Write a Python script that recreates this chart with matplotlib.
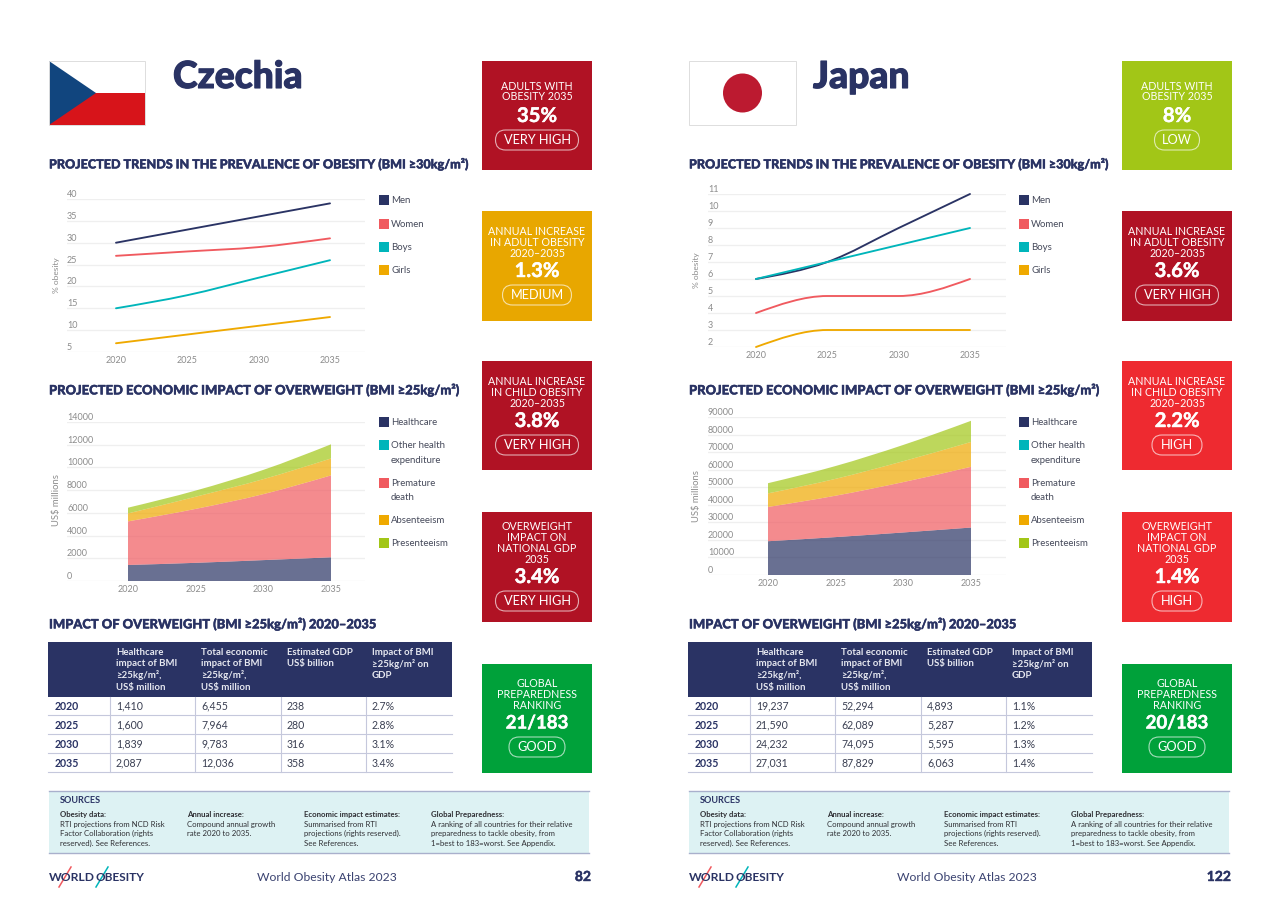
import numpy as np
import matplotlib
matplotlib.use('Agg')
import matplotlib.pyplot as plt
import matplotlib.patheffects as pe
from matplotlib.patches import Rectangle, Polygon, Circle, FancyBboxPatch, PathPatch
from matplotlib.path import Path

plt.rcParams['font.family'] = ['Lato', 'DejaVu Sans']

W, H = 1280, 905

NAVY = '#2A3364'
RED = '#F05A5F'
CYAN = '#00B5BA'
AMBER = '#EFA900'
TILE_AMBER = '#E8A700'
LIME = '#A2C617'
DARK_RED = '#B01224'
BRIGHT_RED = '#EE2A30'
GREEN = '#00A13A'

years = [2020, 2025, 2030, 2035]

# prevalence lines, % obesity
cz_men = [30, 33, 36, 39]
cz_women = [27, 28, 29, 31]
cz_boys = [15, 18, 22, 26]
cz_girls = [7, 9, 11, 13]
jp_men = [6, 7, 9, 11]
jp_women = [4, 5, 5, 6]
jp_boys = [6, 7, 8, 9]
jp_girls = [2, 3, 3, 3]

# economic impact, US$ millions
cz_healthcare = [1410, 1600, 1839, 2087]
cz_other = [0, 0, 0, 0]
cz_premature = [3840, 4750, 5810, 7213]
cz_absent = [700, 1070, 1320, 1490]
cz_present = [505, 544, 814, 1246]
jp_healthcare = [19237, 21590, 24232, 27031]
jp_other = [0, 0, 0, 0]
jp_premature = [19520, 23600, 28700, 34600]
jp_absent = [7740, 9610, 11910, 14160]
jp_present = [5797, 7289, 9253, 12038]

cz_line_ticks = [5, 10, 15, 20, 25, 30, 35, 40]
jp_line_ticks = [2, 3, 4, 5, 6, 7, 8, 9, 10, 11]
cz_area_ticks = [0, 2000, 4000, 6000, 8000, 10000, 12000, 14000]
jp_area_ticks = [0, 10000, 20000, 30000, 40000, 50000, 60000, 70000, 80000, 90000]

# table rows
cz_table = [['1,410', '6,455', '238', '2.7%'],
            ['1,600', '7,964', '280', '2.8%'],
            ['1,839', '9,783', '316', '3.1%'],
            ['2,087', '12,036', '358', '3.4%']]
jp_table = [['19,237', '52,294', '4,893', '1.1%'],
            ['21,590', '62,089', '5,287', '1.2%'],
            ['24,232', '74,095', '5,595', '1.3%'],
            ['27,031', '87,829', '6,063', '1.4%']]
table_header = [['Healthcare', 'impact of BMI', '≥25kg/m²,', 'US$ million'],
                ['Total economic', 'impact of BMI', '≥25kg/m²,', 'US$ million'],
                ['Estimated GDP', 'US$ billion'],
                ['Impact of BMI', '≥25kg/m² on', 'GDP']]

# right hand tiles
cz_tiles = [(['ADULTS WITH', 'OBESITY 2035'], '35%', 'VERY HIGH', DARK_RED),
            (['ANNUAL INCREASE', 'IN ADULT OBESITY', '2020–2035'], '1.3%', 'MEDIUM', TILE_AMBER),
            (['ANNUAL INCREASE', 'IN CHILD OBESITY', '2020–2035'], '3.8%', 'VERY HIGH', DARK_RED),
            (['OVERWEIGHT', 'IMPACT ON', 'NATIONAL GDP', '2035'], '3.4%', 'VERY HIGH', DARK_RED),
            (['GLOBAL', 'PREPAREDNESS', 'RANKING'], '21/183', 'GOOD', GREEN)]
jp_tiles = [(['ADULTS WITH', 'OBESITY 2035'], '8%', 'LOW', LIME),
            (['ANNUAL INCREASE', 'IN ADULT OBESITY', '2020–2035'], '3.6%', 'VERY HIGH', DARK_RED),
            (['ANNUAL INCREASE', 'IN CHILD OBESITY', '2020–2035'], '2.2%', 'HIGH', BRIGHT_RED),
            (['OVERWEIGHT', 'IMPACT ON', 'NATIONAL GDP', '2035'], '1.4%', 'HIGH', BRIGHT_RED),
            (['GLOBAL', 'PREPAREDNESS', 'RANKING'], '20/183', 'GOOD', GREEN)]
pill_width = {'VERY HIGH': 83, 'MEDIUM': 69, 'GOOD': 56, 'HIGH': 50, 'LOW': 45}

sources = [(60, 'Obesity data:', ['RTI projections from NCD Risk', 'Factor Collaboration (rights', 'reserved). See References.']),
           (187, 'Annual increase:', ['Compound annual growth', 'rate 2020 to 2035.']),
           (304, 'Economic impact estimates:', ['Summarised from RTI', 'projections (rights reserved).', 'See References.']),
           (431, 'Global Preparedness:', ['A ranking of all countries for their relative', 'preparedness to tackle obesity, from', '1=best to 183=worst. See Appendix.'])]

fig = plt.figure(figsize=(W / 100, H / 100), dpi=100, facecolor='white')
page = fig.add_axes([0, 0, 1, 1])
page.set_xlim(0, W)
page.set_ylim(H, 0)
page.axis('off')


def px_axes(x0, top, x1, bottom):
    ax = fig.add_axes([x0 / W, 1 - bottom / H, (x1 - x0) / W, (bottom - top) / H])
    ax.patch.set_alpha(0)
    return ax


# the source headings are heavier than Lato Bold, so thicken them a little
def heavy(width, color=NAVY):
    return [pe.withStroke(linewidth=width, foreground=color)]


# monotone cubic segments through the data points, same look as the source chart
def curve_verts(xs, ys):
    xs = np.array(xs, dtype=float)
    ys = np.array(ys, dtype=float)
    h = np.diff(xs)
    s = np.diff(ys) / h
    m = np.zeros(len(xs))
    for i in range(1, len(xs) - 1):
        if s[i - 1] * s[i] > 0:
            p = (s[i - 1] * h[i] + s[i] * h[i - 1]) / (h[i - 1] + h[i])
            m[i] = np.sign(s[i]) * min(2 * abs(s[i - 1]), 2 * abs(s[i]), abs(p))
    m[0] = (3 * s[0] - m[1]) / 2
    m[-1] = (3 * s[-1] - m[-2]) / 2
    verts = []
    for i in range(len(h)):
        verts.append((xs[i] + h[i] / 3, ys[i] + m[i] * h[i] / 3))
        verts.append((xs[i + 1] - h[i] / 3, ys[i + 1] - m[i + 1] * h[i] / 3))
        verts.append((xs[i + 1], ys[i + 1]))
    return verts


def style_axes(ax, ticks, xlim, ylim, ylabel, label_x, label_y, label_size, tick_size):
    ax.set_xlim(*xlim)
    ax.set_ylim(*ylim)
    ax.set_xticks(years)
    ax.set_yticks(ticks)
    for s in ax.spines.values():
        s.set_visible(False)
    ax.grid(axis='y', color='#EFEFEF', lw=0.9)
    ax.set_axisbelow(True)
    ax.tick_params(axis='both', length=0, labelsize=tick_size, labelcolor='#8C8C8C')
    ax.tick_params(axis='x', pad=3)
    ax.tick_params(axis='y', pad=0)
    for t in ax.get_yticklabels():
        t.set_ha('left')
        t.set_va('bottom')
    ax.set_ylabel(ylabel, fontsize=label_size, color='#8C8C8C')
    ax.yaxis.set_label_coords(label_x, label_y)


def line_chart(series, ticks, x0, top, bottom, first_px, last_px, ylabel, label_x, label_y):
    x1 = x0 + 298
    per_year = (last_px - first_px) / 15
    xlim = (2020 - (first_px - x0) / per_year, 2035 + (x1 - last_px) / per_year)
    ax = px_axes(x0, top, x1, bottom)
    style_axes(ax, ticks, xlim, (ticks[0], ticks[-1]), ylabel, label_x, label_y, 6.0, 6.5)
    for values, color in series:
        verts = [(years[0], values[0])] + curve_verts(years, values)
        codes = [Path.MOVETO] + [Path.CURVE4] * (len(verts) - 1)
        ax.add_patch(PathPatch(Path(verts, codes), fc='none', ec=color, lw=1.35, capstyle='round', clip_on=False))


def area_chart(series, ticks, x0, top, bottom, first_px, last_px, ylabel, label_x, label_y):
    x1 = x0 + 298
    per_year = (last_px - first_px) / 15
    xlim = (2020 - (first_px - x0) / per_year, 2035 + (x1 - last_px) / per_year)
    ax = px_axes(x0, top, x1, bottom)
    style_axes(ax, ticks, xlim, (ticks[0], ticks[-1]), ylabel, label_x, label_y, 6.8, 6.5)
    base = np.zeros(4)
    for values, color in series:
        upper = base + np.array(values, dtype=float)
        if upper.sum() > base.sum():
            verts = [(years[0], base[0]), (years[0], upper[0])] + curve_verts(years, upper)
            verts += [(years[-1], base[-1])] + curve_verts(years[::-1], base[::-1]) + [(years[0], base[0])]
            n_top = 3 * (len(years) - 1)
            codes = [Path.MOVETO, Path.LINETO] + [Path.CURVE4] * n_top + [Path.LINETO] + [Path.CURVE4] * n_top + [Path.CLOSEPOLY]
            ax.add_patch(PathPatch(Path(verts, codes), fc=color, ec='none', alpha=0.7, zorder=2))
        base = upper


def legend(off, entries):
    for y, label, color in entries:
        if color:
            page.add_patch(Rectangle((379 + off, y - 5), 10, 10, fc=color, ec='none'))
        page.text(391 + off, y, label, fontsize=6.9, color='#45495A', va='center', ha='left')


def draw_tiles(off, tiles):
    tops = [61, 211, 361, 512, 664]
    heights = [109, 110, 109, 110, 109]
    caption_ys = [[87, 97], [231, 242, 253], [381, 392, 403], [526, 537, 548, 559], [683, 694, 705]]
    value_ys = [116, 271, 421, 577, 723]
    pill_ys = [140, 295, 445, 601, 747]
    for i, (caption, value, rating, color) in enumerate(tiles):
        page.add_patch(Rectangle((482 + off, tops[i]), 110, heights[i], fc=color, ec='none'))
        cx = 537 + off
        for line, y in zip(caption, caption_ys[i]):
            page.text(cx, y, line, color='white', fontsize=7.7, ha='center', va='center')
        size = 13.4 if '/' in value else 14.6
        page.text(cx, value_ys[i], value, color='white', fontsize=size, fontweight='bold', ha='center', va='center',
                  path_effects=heavy(0.3, 'white'))
        w = pill_width[rating]
        page.add_patch(FancyBboxPatch((cx - w / 2, pill_ys[i] - 10), w, 20,
                                      boxstyle='round,pad=0,rounding_size=10', fc='none',
                                      ec=(1, 1, 1, 0.65), lw=0.8))
        page.text(cx, pill_ys[i], rating, color='white', fontsize=9.2, ha='center', va='center')


def draw_table(off, rows):
    col_x = [110, 195, 281, 366]
    page.add_patch(Rectangle((48 + off, 642), 404, 55, fc=NAVY, ec='none'))
    for x, lines in zip(col_x, table_header):
        for j, line in enumerate(lines):
            page.text(x + 6 + off, 652 + j * 11.7, line, color='#E6E8F0', fontsize=6.9,
                      fontweight='bold', va='center', ha='left')
    row_ys = [706, 725, 744, 763]
    for i, year in enumerate(years):
        y = row_ys[i]
        page.text(55 + off, y, str(year), color=NAVY, fontsize=7.6, fontweight='bold', va='center', ha='left')
        for x, val in zip(col_x, rows[i]):
            page.text(x + 6 + off, y, val, color='#3A3F52', fontsize=7.6, va='center', ha='left')
        page.plot([48 + off, 452 + off], [y + 9, y + 9], color='#C5C8DC', lw=0.8)
    for x in col_x:
        page.plot([x + off, x + off], [697, 772], color='#C5C8DC', lw=0.8)


def draw_footer(off, number):
    page.add_patch(Rectangle((49 + off, 791), 540, 62, fc='#DDF2F3', ec='none'))
    page.plot([49 + off, 589 + off], [791, 791], color='#A9B0CC', lw=1)
    page.plot([49 + off, 589 + off], [853, 853], color='#A9B0CC', lw=1)
    page.text(60 + off, 800, 'SOURCES', color=NAVY, fontsize=6.6, fontweight='bold', va='center')
    for x, head, lines in sources:
        page.text(x + off, 814, head, color='#2E2E33', fontsize=5.6, fontweight='bold', va='center')
        for j, line in enumerate(lines):
            page.text(x + off, 824 + j * 9.7, line, color='#2E2E33', fontsize=5.6, va='center')
    # logo: wordmark with two slashes through the Os
    page.text(49 + off, 877, 'WORLD', color=NAVY, fontsize=8.7, fontweight='bold', va='center')
    page.text(96 + off, 877, 'OBESITY', color=NAVY, fontsize=8.5, fontweight='bold', va='center')
    page.plot([59 + off, 71 + off], [887, 867], color=RED, lw=1.1)
    page.plot([96 + off, 108 + off], [887, 867], color=CYAN, lw=1.1)
    page.text(327 + off, 877.5, 'World Obesity Atlas 2023', color='#3A4270', fontsize=8.7, ha='center', va='center')
    page.text(591 + off, 877, number, color=NAVY, fontsize=10, fontweight='bold', ha='right', va='center',
              path_effects=heavy(0.3))


def headings(off, country, country_x):
    page.text(country_x, 88, country, color=NAVY, fontsize=26.8, fontweight='black', va='baseline',
              path_effects=heavy(0.8))
    page.text(49 + off, 164, 'PROJECTED TRENDS IN THE PREVALENCE OF OBESITY (BMI ≥30kg/m²)',
              color=NAVY, fontsize=9.05, fontweight='black', va='center', path_effects=heavy(0.3))
    page.text(49 + off, 390, 'PROJECTED ECONOMIC IMPACT OF OVERWEIGHT (BMI ≥25kg/m²)',
              color=NAVY, fontsize=9.35, fontweight='black', va='center', path_effects=heavy(0.3))
    page.text(49 + off, 624, 'IMPACT OF OVERWEIGHT (BMI ≥25kg/m²) 2020–2035',
              color=NAVY, fontsize=9.3, fontweight='black', va='center', path_effects=heavy(0.3))


line_legend = [(200, 'Men', NAVY), (224, 'Women', RED), (247, 'Boys', CYAN), (270, 'Girls', AMBER)]
area_legend = [(422, 'Healthcare', NAVY), (445, 'Other health', CYAN), (460, 'expenditure', None),
               (483, 'Premature', RED), (497, 'death', None), (520, 'Absenteeism', AMBER),
               (543, 'Presenteeism', LIME)]

# flags
page.add_patch(Rectangle((49, 61), 96, 32, fc='white', ec='none'))
page.add_patch(Rectangle((49, 93), 96, 32, fc='#D7141A', ec='none'))
page.add_patch(Polygon([(49, 61), (96, 93), (49, 125)], closed=True, fc='#11457E', ec='none'))
page.add_patch(Rectangle((49, 61), 96, 64, fc='none', ec='#DDDDDD', lw=0.7))
page.add_patch(Rectangle((689, 61), 107, 64, fc='white', ec='#DDDDDD', lw=0.7))
page.add_patch(Circle((742.5, 93), 19.5, fc='#BC1A30', ec='none'))

# left page
headings(0, 'Czechia', 173)
line_chart([(cz_men, NAVY), (cz_women, RED), (cz_boys, CYAN), (cz_girls, AMBER)], cz_line_ticks,
           67, 199, 352, 116, 330, '% obesity', -7 / 298, 0.50)
area_chart([(cz_healthcare, NAVY), (cz_other, CYAN), (cz_premature, RED), (cz_absent, AMBER), (cz_present, LIME)],
           cz_area_ticks, 67, 422, 581, 128, 331, 'US$ millions', -6 / 298, 0.51)
legend(0, line_legend)
legend(0, area_legend)
draw_tiles(0, cz_tiles)
draw_table(0, cz_table)
draw_footer(0, '82')

# right page
headings(640, 'Japan', 813)
line_chart([(jp_men, NAVY), (jp_boys, CYAN), (jp_women, RED), (jp_girls, AMBER)], jp_line_ticks,
           708, 194, 347, 756, 970, '% obesity', -8 / 298, 0.50)
area_chart([(jp_healthcare, NAVY), (jp_other, CYAN), (jp_premature, RED), (jp_absent, AMBER), (jp_present, LIME)],
           jp_area_ticks, 708, 417, 575, 768, 971, 'US$ millions', -7 / 298, 0.50)
legend(640, line_legend)
legend(640, area_legend)
draw_tiles(640, jp_tiles)
draw_table(640, jp_table)
draw_footer(640, '122')

fig.savefig('out.png', dpi=100, facecolor='white')
